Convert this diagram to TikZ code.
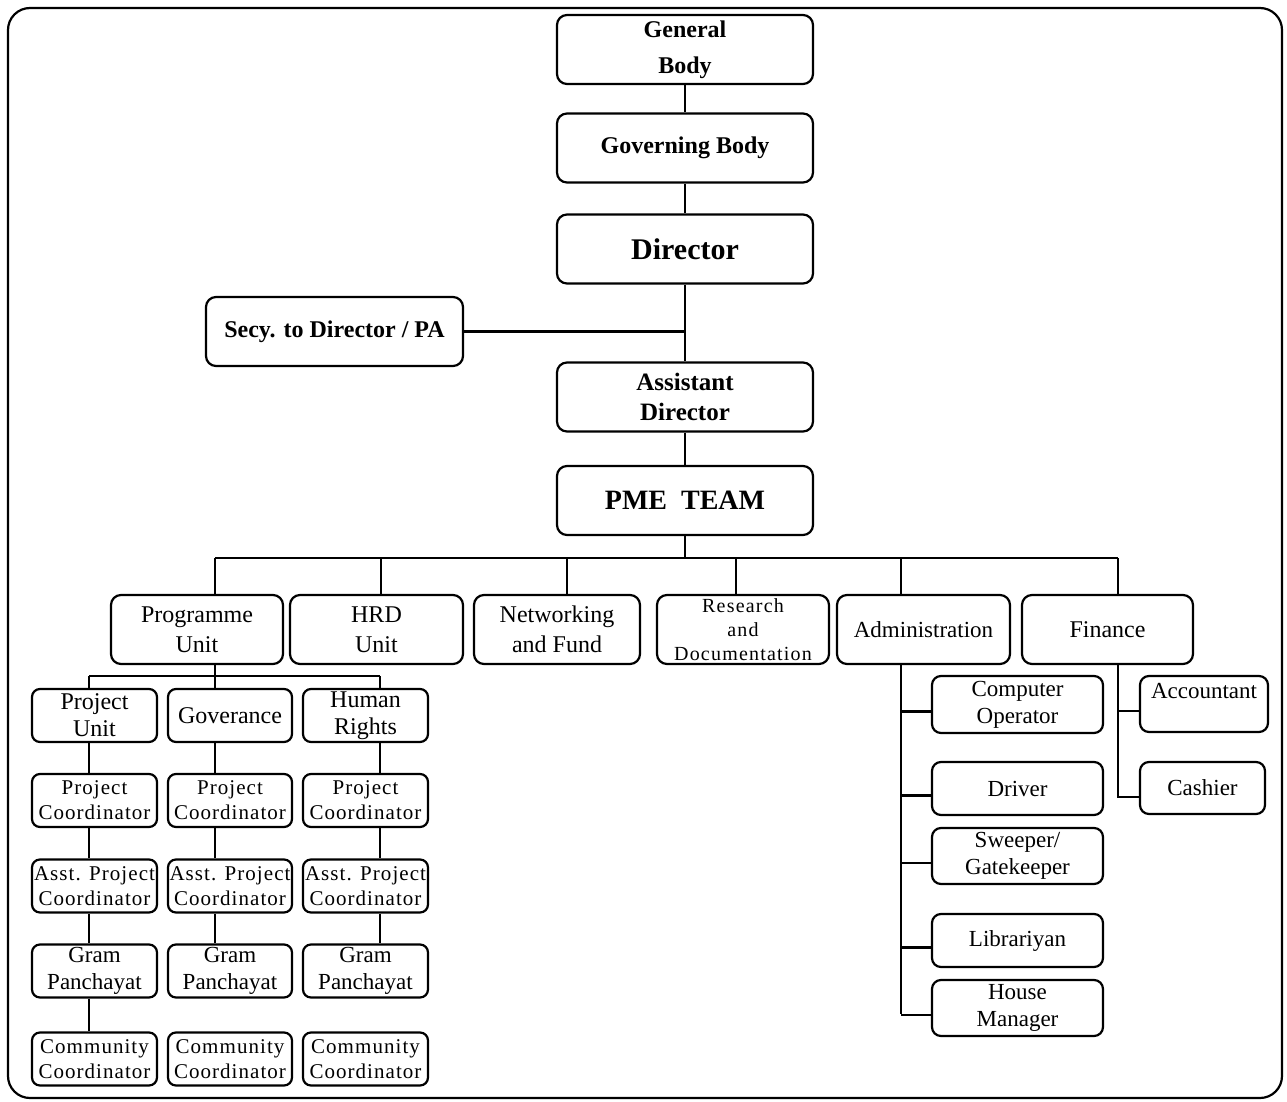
\documentclass[tikz,border=0pt]{standalone}
\usepackage{fontspec}
\setmainfont{Liberation Serif}
\newfontfamily\spacedserif[LetterSpace=5]{Liberation Serif}
\newfontfamily\widerserif[LetterSpace=6]{Liberation Serif}
\begin{document}
\begin{tikzpicture}[x=1pt,y=-1pt,
  box/.style={draw, line width=2.2pt, rounded corners=10pt, align=center, inner sep=0pt},
  sz/.style 2 args={minimum width=#1, minimum height=#2},
  topbox/.style={box, font=\fontsize{24}{34}\selectfont\bfseries, sz={256}{69}},
  unitbox/.style={box, font=\fontsize{24}{30}\selectfont, minimum height=69},
  headcell/.style={box, rounded corners=8pt, font=\fontsize{24}{27}\selectfont, sz={125}{53}},
  cell/.style={box, rounded corners=8pt, font=\spacedserif\fontsize{21}{25}\selectfont, sz={125}{53}},
  staffbox/.style={box, font=\fontsize{23}{27}\selectfont, rounded corners=9pt},
  link/.style={line width=2.2pt}]
\useasboundingbox (0,0) rectangle (1287,1102);
\draw[line width=2.2pt, rounded corners=22pt] (8,8) rectangle (1282,1098);

% top chain
\node[topbox, font=\fontsize{24}{36}\selectfont\bfseries] (gb) at (685,49.5) {General\\Body};
\node[topbox, font=\fontsize{24}{28}\selectfont\bfseries] (gov) at (685,148) {Governing Body};
\node[topbox, font=\fontsize{30}{34}\selectfont\bfseries] (dir) at (685,249) {Director};
\node[topbox, sz={257}{69}] (secy) at (334.5,331.5) {Secy. to Director / PA};
\node[topbox, font=\fontsize{25}{30}\selectfont\bfseries] (ad) at (685,397) {Assistant\\Director};
\node[topbox, font=\fontsize{28}{32}\selectfont\bfseries] (pme) at (685,500.5) {PME\ \ TEAM};

\draw[link] (gb) -- (gov);
\draw[link] (gov) -- (dir);
\draw[link] (dir) -- (ad);
\draw[link] (ad) -- (pme);
\draw[link] (secy.east) -- (secy.east -| dir.south);

% units
\node[unitbox, minimum width=172] (prog) at (197,629.5) {Programme\\Unit};
\node[unitbox, minimum width=173] (hrd) at (376.5,629.5) {HRD\\Unit};
\node[unitbox, minimum width=166] (net) at (557,629.5) {Networking\\and Fund};
\node[unitbox, minimum width=172, font=\widerserif\fontsize{20}{24}\selectfont] (res) at (743,629.5) {Research\\and\\Documentation};
\node[unitbox, minimum width=173, font=\fontsize{23}{27}\selectfont] (adm) at (923.5,629.5) {Administration};
\node[unitbox, minimum width=171] (fin) at (1107.5,629.5) {Finance};

\coordinate (dp) at (215,558);
\coordinate (dh) at (381,558);
\coordinate (dn) at (567,558);
\coordinate (dr) at (736,558);
\coordinate (da) at (901,558);
\coordinate (df) at (1118,558);
\draw[link] (pme.south) -- (pme.south |- dp);
\draw[link] (dp) -- (df);
\draw[link] (dp) -- (dp |- prog.north);
\draw[link] (dh) -- (dh |- hrd.north);
\draw[link] (dn) -- (dn |- net.north);
\draw[link] (dr) -- (dr |- res.north);
\draw[link] (da) -- (da |- adm.north);
\draw[link] (df) -- (df |- fin.north);

% programme columns
\node[headcell] (pu) at (94.5,715.5) {Project\\Unit};
\node[headcell, sz={124}{53}] (gv) at (230,715.5) {Goverance};
\node[headcell] (hr) at (365.5,715.5) {Human\\Rights};
\node[cell] (pc1) at (94.5,800.5) {Project\\Coordinator};
\node[cell, sz={124}{53}] (pc2) at (230,800.5) {Project\\Coordinator};
\node[cell] (pc3) at (365.5,800.5) {Project\\Coordinator};
\node[cell] (ap1) at (94.5,886) {Asst. Project\\Coordinator};
\node[cell, sz={124}{53}] (ap2) at (230,886) {Asst. Project\\Coordinator};
\node[cell] (ap3) at (365.5,886) {Asst. Project\\Coordinator};
\node[headcell, font=\fontsize{23}{27}\selectfont] (gp1) at (94.5,971) {Gram\\Panchayat};
\node[headcell, sz={124}{53}, font=\fontsize{23}{27}\selectfont] (gp2) at (230,971) {Gram\\Panchayat};
\node[headcell, font=\fontsize{23}{27}\selectfont] (gp3) at (365.5,971) {Gram\\Panchayat};
\node[cell] (cc1) at (94.5,1059) {Community\\Coordinator};
\node[cell, sz={124}{53}] (cc2) at (230,1059) {Community\\Coordinator};
\node[cell] (cc3) at (365.5,1059) {Community\\Coordinator};

\coordinate (k1) at (89,676);
\coordinate (k2) at (215,676);
\coordinate (k3) at (380,676);
\draw[link] (prog.south -| k2) -- (k2);
\draw[link] (k1) -- (k3);
\draw[link] (k1) -- (k1 |- pu.north);
\draw[link] (k2) -- (k2 |- gv.north);
\draw[link] (k3) -- (k3 |- hr.north);
\draw[link] (pu.south -| k1) -- (pc1.north -| k1);
\draw[link] (pc1.south -| k1) -- (ap1.north -| k1);
\draw[link] (ap1.south -| k1) -- (gp1.north -| k1);
\draw[link] (gp1.south -| k1) -- (cc1.north -| k1);
\draw[link] (gv.south -| k2) -- (pc2.north -| k2);
\draw[link] (pc2.south -| k2) -- (ap2.north -| k2);
\draw[link] (ap2.south -| k2) -- (gp2.north -| k2);
\draw[link] (hr.south -| k3) -- (pc3.north -| k3);
\draw[link] (pc3.south -| k3) -- (ap3.north -| k3);
\draw[link] (ap3.south -| k3) -- (gp3.north -| k3);

% administration staff
\node[staffbox, sz={171}{57}] (co) at (1017.5,704.5) {Computer\\Operator};
\node[staffbox, sz={171}{53}] (drv) at (1017.5,788.5) {Driver};
\node[staffbox, sz={171}{56}] (swp) at (1017.5,856) {Sweeper/\\Gatekeeper};
\node[staffbox, sz={171}{53}] (lib) at (1017.5,940.5) {Librariyan};
\node[staffbox, sz={171}{56}] (hm) at (1017.5,1008) {House\\Manager};
\draw[link] (adm.south -| da) -- ([yshift=-6pt]hm.west -| da);
\foreach \s in {co,drv,swp,lib,hm}{
  \draw[link] ([yshift=-7pt]\s.west -| da) -- ([yshift=-7pt]\s.west);
}

% finance staff
\node[staffbox, sz={128}{56}] (acc) at (1204,704) {Accountant\\\mbox{}};
\node[staffbox, sz={125}{52}] (cash) at (1202.5,788) {Cashier};
\draw[link] (fin.south -| df) |- ([yshift=-9pt]cash.west);
\draw[link] ([yshift=-7pt]acc.west -| df) -- ([yshift=-7pt]acc.west);
\end{tikzpicture}
\end{document}
